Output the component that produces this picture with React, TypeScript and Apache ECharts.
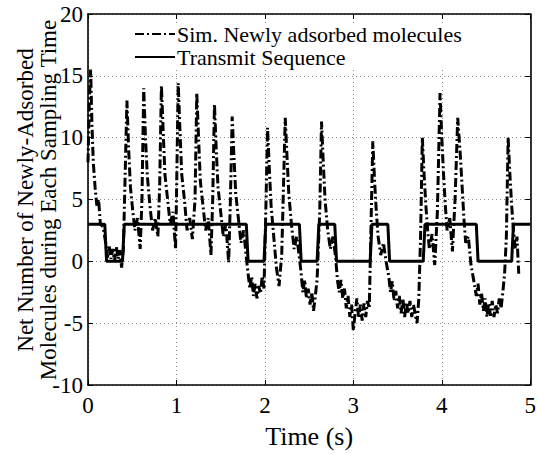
import React, { useEffect, useRef } from "react";
import * as echarts from "echarts";

// Transmitted bits, one per 0.2 s sampling interval (0..5 s)
const bitDuration = 0.2;
const transmitBits = [1, 0, 1, 1, 1, 1, 1, 1, 1, 0, 1, 1, 0, 1, 0, 0, 1, 0, 0, 1, 1, 1, 0, 0, 1];
const bitLevel = 3;

// Simulated net number of newly-adsorbed molecules
const simTime = [
  0.0, 0.015, 0.03, 0.045, 0.06, 0.08, 0.1, 0.12, 0.14, 0.17, 0.2, 0.22, 0.24, 0.26, 0.28, 0.3, 0.32, 0.34, 0.36, 0.38,
  0.4, 0.42, 0.44, 0.46, 0.48, 0.5, 0.53, 0.56, 0.59, 0.61, 0.63, 0.65, 0.67, 0.7, 0.73, 0.76, 0.79, 0.81, 0.83, 0.85,
  0.87, 0.9, 0.93, 0.96, 0.99, 1.0, 1.02, 1.04, 1.06, 1.09, 1.12, 1.15, 1.18, 1.21, 1.23, 1.25, 1.27, 1.3, 1.33, 1.36,
  1.39, 1.41, 1.43, 1.45, 1.47, 1.5, 1.53, 1.56, 1.59, 1.61, 1.63, 1.65, 1.67, 1.7, 1.73, 1.76, 1.79, 1.81, 1.83, 1.85,
  1.87, 1.89, 1.91, 1.93, 1.95, 1.97, 1.99, 2.01, 2.03, 2.05, 2.07, 2.1, 2.13, 2.16, 2.19, 2.21, 2.23, 2.25, 2.27, 2.3,
  2.33, 2.36, 2.39, 2.41, 2.43, 2.45, 2.47, 2.49, 2.51, 2.53, 2.55, 2.57, 2.59, 2.62, 2.64, 2.66, 2.68, 2.71, 2.74, 2.77,
  2.8, 2.82, 2.84, 2.86, 2.88, 2.9, 2.92, 2.94, 2.96, 2.98, 3.0, 3.02, 3.04, 3.06, 3.08, 3.1, 3.12, 3.14, 3.16, 3.18,
  3.2, 3.22, 3.24, 3.26, 3.28, 3.31, 3.34, 3.37, 3.4, 3.42, 3.44, 3.46, 3.48, 3.5, 3.52, 3.54, 3.56, 3.58, 3.6, 3.62,
  3.64, 3.66, 3.68, 3.7, 3.72, 3.74, 3.76, 3.78, 3.8, 3.82, 3.84, 3.86, 3.89, 3.92, 3.95, 3.98, 4.0, 4.02, 4.04, 4.06,
  4.09, 4.12, 4.15, 4.18, 4.21, 4.23, 4.25, 4.27, 4.3, 4.33, 4.36, 4.39, 4.41, 4.43, 4.45, 4.47, 4.49, 4.51, 4.53, 4.55,
  4.57, 4.59, 4.61, 4.63, 4.65, 4.67, 4.69, 4.71, 4.73, 4.75, 4.77, 4.79, 4.81, 4.83, 4.85, 4.87, 4.9, 4.93, 4.96, 5.0,
];
const simValues = [
  8, 13, 15.5, 11, 8, 6, 4.5, 5, 3, 2.8, 1.5, 0.3, 1.2, 0.2, 1, 0, 1.2, 0.2, 0.9, -0.5,
  1, 7, 13, 9, 6, 4.5, 2.5, 3.5, 1, 5, 14, 10, 7, 4.5, 2.5, 3.5, 2, 6, 14.2, 10.5,
  7, 5, 3, 4, 1, 5, 14.4, 10.5, 7, 5, 2.5, 3.5, 1.8, 5, 13.6, 10, 6.5, 4.5, 2.5, 3.5,
  0.5, 5, 12.7, 9, 6, 4, 2, 3, -0.1, 5, 11.7, 8.5, 5.5, 3.5, 1.5, 2.5, 0.3, -1, -2.2, -1.2,
  -2.8, -1.8, -3, -2, -2.6, -1.2, -2.2, 4, 10.8, 7.5, 4.5, 2, -0.5, -2, 0.5, 6, 11.6, 8.5, 5.5, 3,
  1, 2, 0.3, -1, -2.5, -1.5, -3, -2.2, -3.5, -2.5, -4, -2.8, -1.5, 4, 11.3, 8, 5, 2.5, 1, 2,
  0.3, -1.5, -2.5, -1.5, -3, -2.2, -3.8, -2.8, -4.5, -3.5, -5.6, -4.2, -3, -4.6, -3.5, -4.8, -3.4, -4.5, -3.2, -3.8,
  3, 9.7, 6.5, 4, 2, 0.5, 1.5, 0, -1.2, -2.5, -1.6, -3.2, -2.4, -3.8, -2.8, -4.2, -3, -4.5, -3.3, -4.2,
  -3.2, -4.5, -3.5, -4.3, -5, -3, 2, 10, 7, 4.5, 2.5, 1, 2.2, -0.3, 4, 13.6, 10, 7,
  4.5, 2.5, 3.5, 0.8, 5, 11.6, 8.5, 6, 3.5, 1.5, 2, -0.3, -1.5, -2.8, -1.8, -3.5, -2.6, -4, -3, -4.5,
  -3.4, -4.4, -3.2, -4.5, -3.5, -4.2, -3, -3.8, -2.5, -1, 2, 10, 7, 4.5, 2.5, 1, 2, -1,
];

const xTicks = { min: 0, max: 5, interval: 1 };
const yTicks = { min: -10, max: 20, interval: 5 };

const FONT = "Liberation Serif";

export default function App() {
  const ref = useRef<HTMLDivElement>(null);

  useEffect(() => {
    if (!ref.current) return;
    const chart = echarts.init(ref.current, undefined, { renderer: "svg" });

    const transmitData: number[][] = [];
    transmitBits.forEach((b, i) => {
      const v = b * bitLevel;
      const t0 = i * bitDuration;
      const t1 = (i + 1) * bitDuration;
      transmitData.push([i === 0 ? t0 : t0 + 0.01, v]);
      transmitData.push([i === transmitBits.length - 1 ? t1 : t1 - 0.01, v]);
    });
    const simData = simTime.map((t, i) => [t, simValues[i]]);

    const splitLine = { show: true, lineStyle: { color: "#8a8a8a", type: [1, 3] as any, width: 1 } };
    const axisLine = { show: true, onZero: false, lineStyle: { color: "#000", width: 1.6 } };
    const tick = { show: true, inside: true, length: 5, lineStyle: { color: "#000", width: 1 } };

    chart.setOption({
      animation: false,
      grid: { left: 88, right: 7, top: 14, bottom: 68, containLabel: false },
      legend: {
        orient: "vertical",
        left: 130,
        top: 23,
        itemWidth: 40,
        itemHeight: 14,
        itemGap: 1,
        padding: [0, 4, 0, 4],
        backgroundColor: "#fff",
        itemStyle: { opacity: 0 },
        textStyle: { fontFamily: FONT, fontSize: 22, color: "#000", lineHeight: 22, padding: [0, 0, 0, -3] },
        data: ["Sim. Newly adsorbed molecules", "Transmit Sequence"],
      },
      xAxis: [
        {
          type: "value",
          ...xTicks,
          position: "bottom",
          axisLine,
          axisTick: tick,
          splitLine,
          axisLabel: { fontFamily: FONT, fontSize: 23, color: "#000", margin: 9 },
          name: "Time (s)",
          nameLocation: "middle",
          nameGap: 38,
          nameTextStyle: { fontFamily: FONT, fontSize: 26, color: "#000" },
        },
        {
          type: "value",
          ...xTicks,
          position: "top",
          axisLine,
          axisTick: tick,
          splitLine: { show: false },
          axisLabel: { show: false },
        },
      ],
      yAxis: [
        {
          type: "value",
          ...yTicks,
          position: "left",
          axisLine,
          axisTick: tick,
          splitLine,
          axisLabel: { fontFamily: FONT, fontSize: 23, color: "#000", margin: 5 },
        },
        {
          type: "value",
          ...yTicks,
          position: "right",
          axisLine,
          axisTick: tick,
          splitLine: { show: false },
          axisLabel: { show: false },
        },
      ],
      graphic: [
        {
          type: "text",
          x: 37,
          y: 200,
          rotation: Math.PI / 2,
          style: {
            text: "Net Number of Newly-Adsorbed\nMolecules during Each Sampling Time",
            fontFamily: FONT,
            fontSize: 23,
            lineHeight: 23,
            fill: "#000",
            textAlign: "center",
            textVerticalAlign: "middle",
          },
        },
      ],
      series: [
        {
          name: "Sim. Newly adsorbed molecules",
          type: "line",
          data: simData,
          symbol: "none",
          itemStyle: { color: "#000" },
          lineStyle: { color: "#000", width: 3, type: [9, 3, 2, 3] as any },
          z: 2,
        },
        {
          name: "Transmit Sequence",
          type: "line",
          data: transmitData,
          symbol: "none",
          itemStyle: { color: "#000" },
          lineStyle: { color: "#000", width: 3 },
          z: 3,
        },
      ],
    });

    return () => chart.dispose();
  }, []);

  return (
    <div
      ref={ref}
      style={{ position: "fixed", left: 0, top: 0, width: 539, height: 454, background: "#fff" }}
    />
  );
}
